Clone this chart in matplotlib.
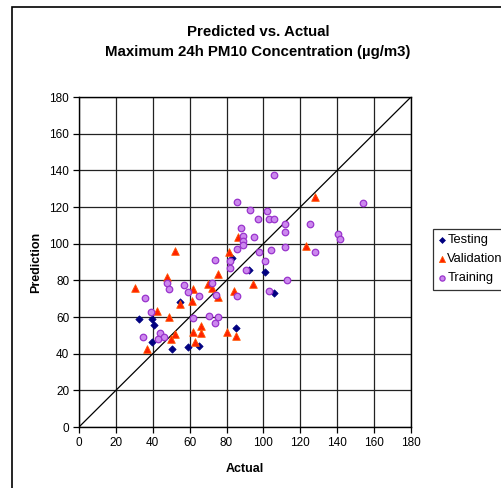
import numpy as np
import matplotlib
matplotlib.use("Agg")
import matplotlib.pyplot as plt
from matplotlib.patches import Rectangle

# values
testing_x = [32.7, 39.8, 40.8, 39.4, 50.3, 59.1, 65.1, 54.9, 82.8, 92.0, 101.0, 105.9, 85.0]
testing_y = [58.7, 58.7, 55.5, 46.5, 42.5, 43.6, 44.2, 68.0, 92.4, 85.8, 84.7, 72.9, 53.8]

validation_x = [52.2, 47.8, 30.1, 62.0, 69.8, 61.4, 54.9, 42.1, 48.8, 66.2, 61.8, 66.2, 52.1, 49.9,
                62.7, 37.0, 81.1, 75.2, 94.2, 72.0, 83.9, 75.4, 80.3, 85.0, 86.1, 128.2, 123.1]
validation_y = [96.0, 81.8, 75.8, 75.3, 77.8, 68.7, 67.1, 63.3, 59.8, 54.9, 52.0, 51.4, 50.6, 47.8,
                46.4, 42.7, 95.2, 83.5, 78.0, 76.0, 74.2, 70.8, 52.0, 49.6, 103.6, 125.6, 98.5]

training_x = [47.6, 48.7, 56.8, 58.9, 64.9, 35.7, 38.9, 61.7, 70.7, 43.9, 46.1, 42.8, 34.7,
              89.1, 89.1, 89.1, 85.8, 97.6, 104.1, 111.5, 73.9, 82.0, 81.8, 100.8, 90.7, 112.6,
              72.0, 74.1, 85.8, 103.0, 75.2, 73.9, 105.7, 85.8, 92.7, 101.9, 96.9, 102.9, 105.7,
              111.5, 111.5, 87.9, 94.9, 154.0, 125.1, 140.6, 141.7, 127.7]
training_y = [78.7, 75.2, 77.6, 73.6, 71.6, 70.5, 62.9, 59.6, 60.8, 51.4, 49.3, 47.8, 48.9,
              104.0, 101.5, 99.5, 96.9, 95.6, 96.4, 98.4, 91.0, 90.5, 86.7, 90.4, 85.5, 80.1,
              78.6, 72.0, 71.5, 74.2, 60.2, 56.9, 137.5, 122.7, 118.4, 118.0, 113.5, 113.5, 113.5,
              110.9, 106.2, 108.4, 103.8, 122.4, 110.9, 105.1, 102.7, 95.2]

ticks = list(range(0, 181, 20))

plt.rcParams['font.family'] = ['Liberation Sans', 'DejaVu Sans']

fig = plt.figure(figsize=(5.02, 4.88), dpi=100)
ax = fig.add_axes([79 / 502, 1 - 427 / 488, 332 / 502, 330 / 488])

# outer chart frame (runs off the right and bottom edges)
fig.patches.append(Rectangle((12 / 502, -0.1), 1.0, (488 - 7) / 488 + 0.1,
                             transform=fig.transFigure, fill=False,
                             edgecolor='black', linewidth=1.2))

ax.set_xlim(0, 180)
ax.set_ylim(0, 180)
ax.set_xticks(ticks)
ax.set_yticks(ticks)
ax.grid(True, color='#222222', linewidth=0.9)
ax.set_axisbelow(True)
for s in ax.spines.values():
    s.set_linewidth(1.0)
    s.set_color('black')
ax.tick_params(direction='out', length=4, width=0.9, labelsize=8.5, pad=3)

ax.plot([0, 180], [0, 180], color='black', linewidth=0.9, zorder=2)

ax.scatter(testing_x, testing_y, marker='D', s=14, color='#000080',
           edgecolors='#000080', linewidths=0.5, zorder=3, label='Testing')
ax.scatter(validation_x, validation_y, marker='^', s=30, color='#FF2200',
           edgecolors='#FF5500', linewidths=0.6, zorder=4, label='Validation')
ax.scatter(training_x, training_y, marker='o', s=22, color='#CC88EE',
           edgecolors='#9933CC', linewidths=0.9, zorder=5, label='Training')

ax.set_xlabel('Actual', fontsize=9, fontweight='bold', labelpad=10)
ax.set_ylabel('Prediction', fontsize=9, fontweight='bold', labelpad=5)

fig.text(258 / 502, 1 - 32 / 488, 'Predicted vs. Actual', ha='center', va='center',
         fontsize=10.8, fontweight='bold')
fig.text(258 / 502, 1 - 52 / 488, 'Maximum 24h PM10 Concentration (µg/m3)', ha='center',
         va='center', fontsize=10.8, fontweight='bold')

leg = fig.legend(loc='upper left', bbox_to_anchor=(433 / 502, 1 - 229 / 488),
                 fontsize=9.3, frameon=True, fancybox=False, borderpad=0.4,
                 labelspacing=0.55, handletextpad=0.1, handlelength=0.6,
                 markerscale=0.8, borderaxespad=0)
leg.get_frame().set_edgecolor('black')
leg.get_frame().set_linewidth(0.9)

fig.savefig('out.png', dpi=100)
